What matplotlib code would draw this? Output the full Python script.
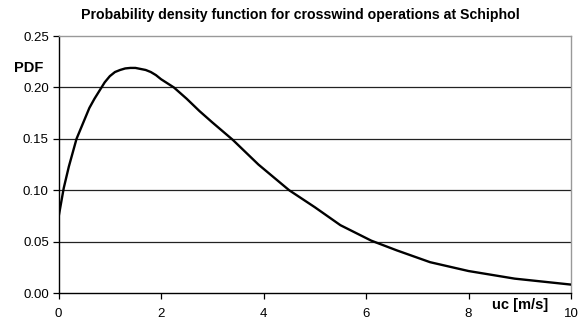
import matplotlib.pyplot as plt
import matplotlib.transforms as mtransforms

plt.rcParams['font.family'] = ['Liberation Sans', 'DejaVu Sans']

# crosswind speed [m/s] and probability density
uc = [0.0, 0.1, 0.2, 0.35, 0.5, 0.6, 0.7, 0.8, 0.9, 1.0, 1.1, 1.2, 1.3, 1.4,
      1.5, 1.6, 1.7, 1.8, 1.9, 2.0, 2.25, 2.5, 2.75, 3.0, 3.4, 3.9, 4.5, 5.0,
      5.5, 6.1, 6.6, 7.25, 8.0, 8.9, 10.0]
pdf = [0.074, 0.102, 0.123, 0.150, 0.168, 0.180, 0.189, 0.197, 0.205, 0.211,
       0.215, 0.217, 0.2185, 0.219, 0.219, 0.218, 0.217, 0.215, 0.212, 0.208,
       0.200, 0.189, 0.177, 0.166, 0.149, 0.125, 0.100, 0.0835, 0.066, 0.051,
       0.0415, 0.030, 0.0214, 0.014, 0.0082]

x_ticks = [0, 2, 4, 6, 8, 10]
y_ticks = [0.00, 0.05, 0.10, 0.15, 0.20, 0.25]

fig = plt.figure(figsize=(5.83, 3.22), dpi=100)
ax = fig.add_axes([0.1005, 0.090, 0.8789, 0.798])

for y in y_ticks[1:-1]:
    ax.axhline(y, color='#222222', lw=0.9, zorder=1)

ax.plot(uc, pdf, color='black', lw=1.7, zorder=3)

ax.set_xlim(0, 10)
ax.set_ylim(0, 0.25)
ax.set_xticks(x_ticks)
ax.set_yticks(y_ticks)
ax.set_yticklabels([f'{v:.2f}' for v in y_ticks])
ax.tick_params(labelsize=9.5, length=4, width=0.9, direction='out', colors='black')
ax.tick_params(axis='x', pad=7)
ax.tick_params(axis='y', pad=3)

for side in ('left', 'bottom'):
    ax.spines[side].set_color('black')
    ax.spines[side].set_linewidth(1.0)
for side in ('top', 'right'):
    ax.spines[side].set_color('#999999')
    ax.spines[side].set_linewidth(1.0)

fig.text(0.516, 0.953, 'Probability density function for crosswind operations at Schiphol',
         ha='center', va='center', fontsize=10.2, fontweight='bold')

trans = mtransforms.blended_transform_factory(ax.transAxes, ax.transData)
ax.text(-0.029, 0.219, 'PDF', transform=trans, ha='right', va='center',
        fontsize=10.5, fontweight='bold')
ax.text(9.0, -0.0045, 'uc [m/s]', ha='center', va='top',
        fontsize=10.5, fontweight='bold', clip_on=False)

fig.savefig('out.png', dpi=100)
